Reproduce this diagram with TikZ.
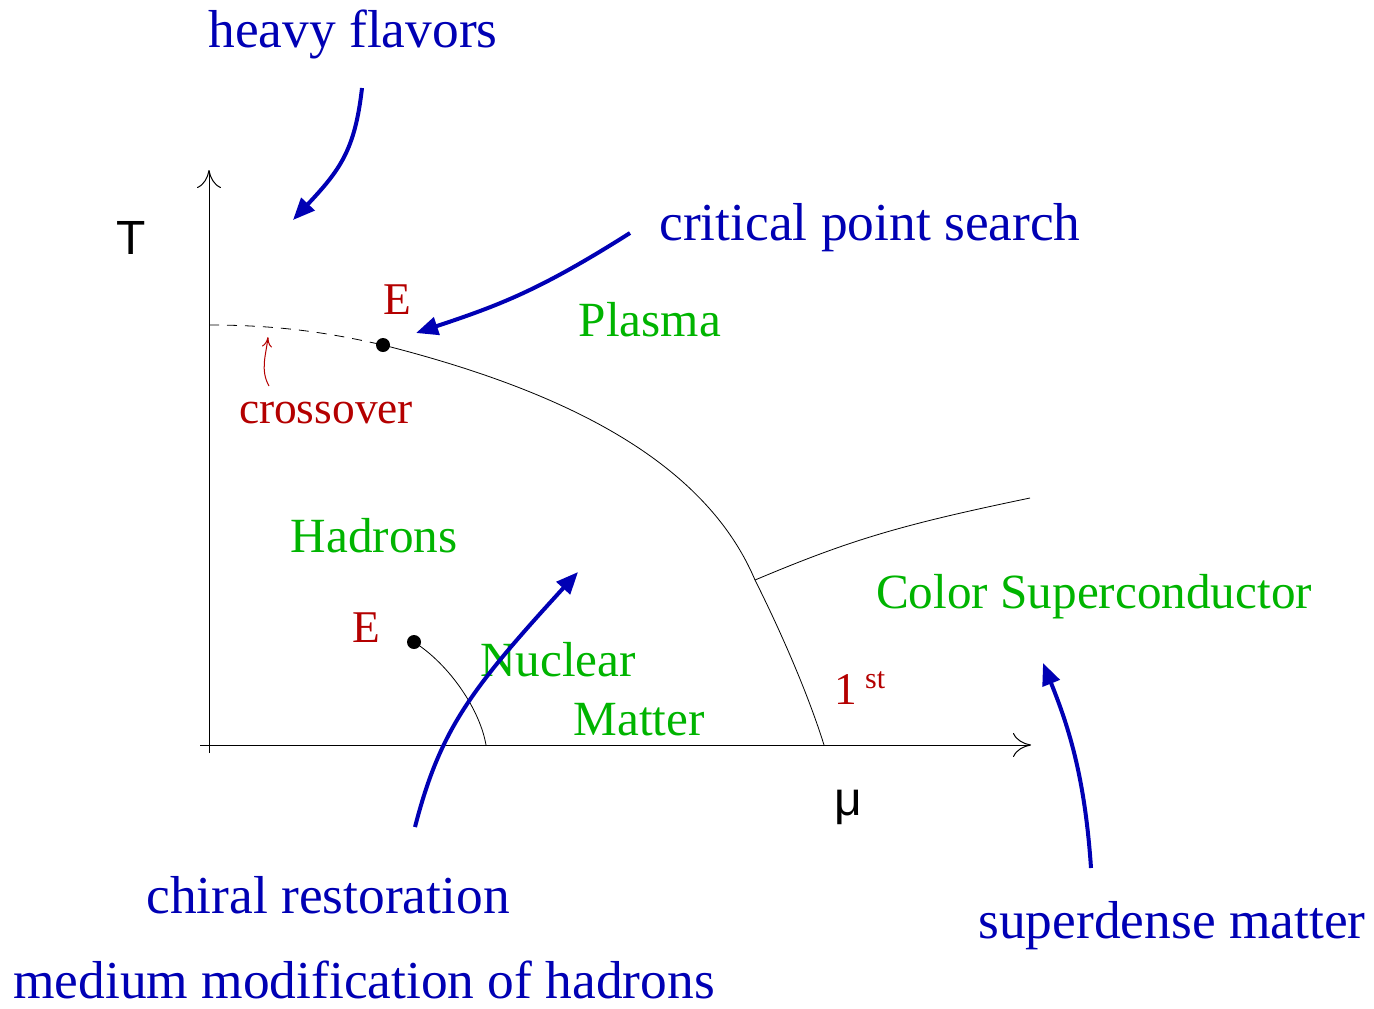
\documentclass[tikz,border=0pt]{standalone}
\usepackage{fontspec}
\setmainfont{Liberation Serif}
\newfontfamily\axisfont{Liberation Sans}
\usetikzlibrary{arrows.meta}
\definecolor{fblue}{RGB}{0,0,180}
\definecolor{fgreen}{RGB}{0,180,0}
\definecolor{fred}{RGB}{180,0,0}
\begin{document}
\begin{tikzpicture}[x=0.5pt,y=-0.5pt,
  lbl/.style={inner sep=0pt,font=\fontsize{24.6}{28}\selectfont},
  bluetxt/.style={lbl,text=fblue,font=\fontsize{26.7}{30}\selectfont},
  greentxt/.style={lbl,text=fgreen},
  redtxt/.style={lbl,text=fred,font=\fontsize{22.7}{26}\selectfont},
  axis/.style={line width=0.5pt,-{To[length=9pt,width=12pt]}},
  bigarrow/.style={fblue,line width=2pt,-{Triangle[length=11pt,width=9pt]}},
  dot/.style={circle,fill=black,inner sep=0pt,minimum size=7pt},
  phase/.style={line width=0.4pt}]
\useasboundingbox (0,0) rectangle (1374,1008);
% axes
\coordinate (xs) at (200,745);
\coordinate (xe) at (1031,745);
\coordinate (ys) at (209,753);
\coordinate (ye) at (209,170);
\draw[axis] (xs) -- (xe);
\draw[axis] (ys) -- (ye);
\node[lbl,font=\axisfont\fontsize{24}{28}\selectfont] (T) at (131,238) {T};
\node[lbl,font=\axisfont\fontsize{24}{28}\selectfont] (mu) at (848,807) {μ};
% phase lines
\node[dot] (E1) at (383,345) {};
\node[dot] (E2) at (414,642) {};
\coordinate (c0) at (209,325);
\coordinate (tri) at (755,580);
\coordinate (m1) at (824,745);
\coordinate (cs) at (1030,498);
\coordinate (n1) at (486,745);
\draw[phase,dash pattern=on 5pt off 4pt] (c0) .. controls (280,325) and (330,333) .. (E1.center);
\draw[phase] (E1.center) .. controls (540,385) and (700,450) .. (tri) .. controls (785,640) and (810,700) .. (m1);
\draw[phase] (tri) .. controls (850,540) and (900,525) .. (cs);
\draw[phase] (E2.center) .. controls (450,665) and (480,710) .. (n1);
% crossover small arrow
\coordinate (cr0) at (269,386);
\coordinate (cr1) at (268,337);
\draw[fred,line width=0.5pt,-{To[length=5pt,width=5pt]}] (cr0) .. controls (260,370) and (266,355) .. (cr1);
% labels
\node[redtxt] (Elab1) at (397,300) {E};
\node[redtxt] (Elab2) at (366,628) {E};
\node[redtxt] (cross) at (326,413) {crossover};
\node[greentxt] (plasma) at (650,320) {Plasma};
\node[greentxt] (hadrons) at (374,536) {Hadrons};
\node[greentxt] (nuclear) at (558,660) {Nuclear};
\node[greentxt] (matter) at (639,720) {Matter};
\node[greentxt] (csc) at (1094,597) {Color Superconductor};
\node[redtxt] (first) at (860,688) {1\,\raisebox{0.75ex}{\fontsize{15}{18}\selectfont st}};
% blue annotations
\node[bluetxt] (heavy) at (353,34) {heavy flavors};
\node[bluetxt] (crit) at (870,228) {critical point search};
\node[bluetxt] (chiral) at (328,895) {chiral restoration};
\node[bluetxt,anchor=base] (medium) at (364,998) {medium modification of hadrons};
\node[bluetxt] (super) at (1172,926) {superdense matter};
\coordinate (h0) at (362,88);
\coordinate (h1) at (293,220);
\coordinate (k0) at (630,233);
\coordinate (k1) at (416,333);
\coordinate (q0) at (415,827);
\coordinate (q1) at (578,572);
\coordinate (s0) at (1091,868);
\coordinate (s1) at (1043,663);
\draw[bigarrow] (h0) .. controls (355,150) and (340,170) .. (h1);
\draw[bigarrow] (k0) .. controls (540,290) and (500,305) .. (k1);
\draw[bigarrow] (q0) .. controls (440,730) and (470,690) .. (q1);
\draw[bigarrow] (s0) .. controls (1085,780) and (1070,730) .. (s1);
\end{tikzpicture}
\end{document}
